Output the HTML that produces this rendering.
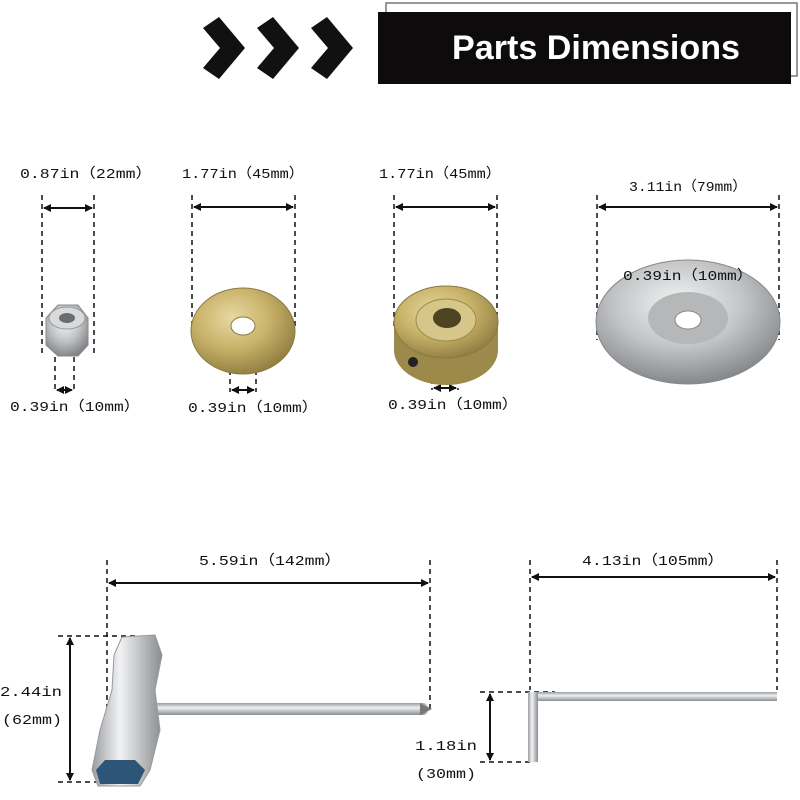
<!DOCTYPE html>
<html><head><meta charset="utf-8"><style>
html,body{margin:0;padding:0;background:#fff;}
svg{display:block}
text{font-family:"Liberation Mono","Noto Sans CJK SC",monospace;font-size:14px;fill:#111;}
</style></head><body>
<svg width="800" height="800" viewBox="0 0 800 800" xmlns="http://www.w3.org/2000/svg">
<defs>
<marker id="a" markerWidth="8" markerHeight="8" refX="7" refY="4" orient="auto-start-reverse" markerUnits="userSpaceOnUse"><path d="M0,0 L8,4 L0,8 z" fill="#111"/></marker>
<radialGradient id="gold" cx="40%" cy="35%" r="70%"><stop offset="0" stop-color="#e8d9a0"/><stop offset="0.5" stop-color="#c9b36a"/><stop offset="1" stop-color="#8d7a3e"/></radialGradient>
<radialGradient id="silver" cx="45%" cy="35%" r="70%"><stop offset="0" stop-color="#f4f4f4"/><stop offset="0.5" stop-color="#c2c4c6"/><stop offset="1" stop-color="#7c7f82"/></radialGradient>
<linearGradient id="bar" x1="0" y1="0" x2="0" y2="1"><stop offset="0" stop-color="#9a9da0"/><stop offset="0.4" stop-color="#eef0f1"/><stop offset="1" stop-color="#8a8d90"/></linearGradient>
<linearGradient id="vbar" x1="0" y1="0" x2="1" y2="0"><stop offset="0" stop-color="#9a9da0"/><stop offset="0.4" stop-color="#f2f3f4"/><stop offset="1" stop-color="#8a8d90"/></linearGradient>
</defs>
<!-- header -->
<g fill="#111">
<path d="M203,28 L219,17 L245,48 L219,79 L203,68 L220,48 z"/>
<path d="M257,28 L273,17 L299,48 L273,79 L257,68 L274,48 z"/>
<path d="M311,28 L327,17 L353,48 L327,79 L311,68 L328,48 z"/>
</g>
<rect x="386" y="3" width="411" height="73" fill="#fff" stroke="#777" stroke-width="1.5"/>
<rect x="378" y="12" width="413" height="72" fill="#0d0b0b"/>
<text x="596" y="59" text-anchor="middle" style="font-family:'Liberation Sans Narrow','Liberation Sans',sans-serif;font-weight:bold;font-size:34px;fill:#fff" textLength="288" lengthAdjust="spacingAndGlyphs">Parts Dimensions</text>

<g stroke="#111" stroke-width="1.5" stroke-dasharray="5,4" fill="none">
<line x1="42" y1="195" x2="42" y2="355"/><line x1="94" y1="195" x2="94" y2="355"/>
<line x1="55" y1="330" x2="55" y2="392"/><line x1="74" y1="330" x2="74" y2="392"/>
<line x1="192" y1="195" x2="192" y2="330"/><line x1="295" y1="195" x2="295" y2="330"/>
<line x1="230" y1="325" x2="230" y2="392"/><line x1="256" y1="325" x2="256" y2="392"/>
<line x1="394" y1="195" x2="394" y2="330"/><line x1="497" y1="195" x2="497" y2="330"/>
<line x1="432" y1="325" x2="432" y2="390"/><line x1="458" y1="325" x2="458" y2="390"/>
<line x1="597" y1="195" x2="597" y2="340"/><line x1="779" y1="195" x2="779" y2="340"/>
<line x1="675" y1="285" x2="675" y2="318"/><line x1="700" y1="285" x2="700" y2="318"/>
<line x1="107" y1="560" x2="107" y2="715"/><line x1="430" y1="560" x2="430" y2="712"/>
<line x1="58" y1="636" x2="135" y2="636"/><line x1="58" y1="782" x2="100" y2="782"/>
<line x1="530" y1="560" x2="530" y2="690"/><line x1="777" y1="560" x2="777" y2="690"/>
<line x1="480" y1="692" x2="555" y2="692"/><line x1="480" y1="762" x2="530" y2="762"/>
</g>
<g stroke="#111" stroke-width="2" marker-start="url(#a)" marker-end="url(#a)">
<line x1="44" y1="208" x2="92" y2="208"/>
<line x1="57" y1="390" x2="72" y2="390"/>
<line x1="194" y1="207" x2="293" y2="207"/>
<line x1="232" y1="390" x2="254" y2="390"/>
<line x1="396" y1="207" x2="495" y2="207"/>
<line x1="434" y1="388" x2="456" y2="388"/>
<line x1="599" y1="207" x2="777" y2="207"/>
<line x1="677" y1="298" x2="698" y2="298"/>
<line x1="109" y1="583" x2="428" y2="583"/>
<line x1="70" y1="638" x2="70" y2="780"/>
<line x1="532" y1="577" x2="775" y2="577"/>
<line x1="490" y1="694" x2="490" y2="760"/>
</g>

<!-- nut -->
<path d="M46,318 L58,305 L78,305 L88,318 L88,345 L78,356 L58,356 L46,345 z" fill="url(#silver)" stroke="#888"/>
<ellipse cx="67" cy="318" rx="18" ry="11" fill="#d9dadb" stroke="#999"/>
<ellipse cx="67" cy="318" rx="8" ry="5" fill="#6a6d70"/>
<!-- washer 1 -->
<ellipse cx="243" cy="331" rx="52" ry="43" fill="url(#gold)" stroke="#8a7a40"/>
<ellipse cx="243" cy="326" rx="12" ry="9" fill="#fff" stroke="#8a7a40"/>
<!-- washer 2 -->
<path d="M394,322 L394,350 A52,35 0 0 0 498,350 L498,322 z" fill="#9c8a4a"/>
<ellipse cx="446" cy="322" rx="52" ry="36" fill="url(#gold)" stroke="#8a7a40"/>
<ellipse cx="446" cy="320" rx="30" ry="21" fill="#d6c68a" stroke="#9c8a4a"/>
<ellipse cx="447" cy="318" rx="14" ry="10" fill="#4e4320"/>
<circle cx="413" cy="362" r="5" fill="#222"/>
<!-- dish -->
<ellipse cx="688" cy="322" rx="92" ry="62" fill="url(#silver)" stroke="#888"/>
<ellipse cx="688" cy="318" rx="40" ry="26" fill="#b5b7b9"/>
<ellipse cx="688" cy="320" rx="13" ry="9" fill="#fff" stroke="#888"/>
<!-- T wrench -->
<rect x="150" y="703" width="278" height="12" rx="5" fill="url(#bar)"/>
<path d="M420,703 L432,709 L420,715 z" fill="#777"/>
<path d="M122,637 L155,635 L162,655 L155,690 L160,730 L150,770 L140,786 L98,786 L92,770 L100,730 L112,690 L114,655 z" fill="url(#vbar)" stroke="#999"/>
<path d="M96,770 L105,760 L135,760 L145,770 L138,784 L100,784 z" fill="#2d5578"/>
<!-- L key -->
<rect x="530" y="692" width="247" height="9" fill="url(#bar)"/>
<rect x="528" y="692" width="10" height="70" fill="url(#vbar)"/>

<g>
<text x="86" y="178" text-anchor="middle" textLength="132" lengthAdjust="spacingAndGlyphs">0.87in（22mm）</text>
<text x="243" y="178" text-anchor="middle" textLength="122" lengthAdjust="spacingAndGlyphs">1.77in（45mm）</text>
<text x="440" y="178" text-anchor="middle" textLength="122" lengthAdjust="spacingAndGlyphs">1.77in（45mm）</text>
<text x="688" y="191" text-anchor="middle" textLength="118" lengthAdjust="spacingAndGlyphs">3.11in（79mm）</text>
<text x="688" y="280" text-anchor="middle" textLength="130" lengthAdjust="spacingAndGlyphs">0.39in（10mm）</text>
<text x="75" y="411" text-anchor="middle" textLength="130" lengthAdjust="spacingAndGlyphs">0.39in（10mm）</text>
<text x="253" y="412" text-anchor="middle" textLength="130" lengthAdjust="spacingAndGlyphs">0.39in（10mm）</text>
<text x="453" y="409" text-anchor="middle" textLength="130" lengthAdjust="spacingAndGlyphs">0.39in（10mm）</text>
<text x="270" y="565" text-anchor="middle" textLength="142" lengthAdjust="spacingAndGlyphs">5.59in（142mm）</text>
<text x="653" y="565" text-anchor="middle" textLength="142" lengthAdjust="spacingAndGlyphs">4.13in（105mm）</text>
<text x="0" y="696" textLength="62" lengthAdjust="spacingAndGlyphs">2.44in</text>
<text x="2" y="724" textLength="60" lengthAdjust="spacingAndGlyphs">(62mm)</text>
<text x="415" y="750" textLength="62" lengthAdjust="spacingAndGlyphs">1.18in</text>
<text x="416" y="778" textLength="60" lengthAdjust="spacingAndGlyphs">(30mm)</text>
</g>
</svg>
</body></html>
